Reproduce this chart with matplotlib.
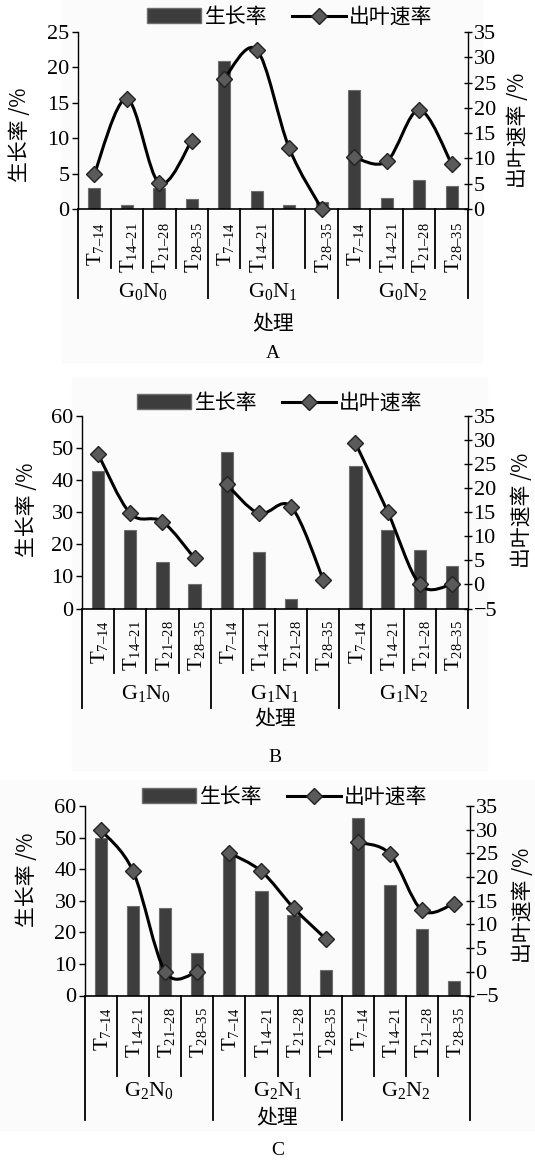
import numpy as np
import matplotlib
matplotlib.use('Agg')
import matplotlib.pyplot as plt
import matplotlib.transforms as mtransforms
from matplotlib.path import Path
from matplotlib.patches import PathPatch, Patch, Rectangle
from matplotlib.lines import Line2D

plt.rcParams['mathtext.fontset'] = 'custom'
plt.rcParams['mathtext.rm'] = 'Liberation Serif'
plt.rcParams['mathtext.it'] = 'Liberation Serif:italic'

CJK = ['Noto Sans CJK SC', 'DejaVu Sans']
SERIF = 'Liberation Serif'

# data
periods = ['$\\mathrm{T}_{\\mathrm{7\u201314}}$', '$\\mathrm{T}_{\\mathrm{14\u201321}}$',
           '$\\mathrm{T}_{\\mathrm{21\u201328}}$', '$\\mathrm{T}_{\\mathrm{28\u201335}}$']
ticks_a = periods + [periods[0], periods[1], '', periods[3]] + periods
ticks_bc = periods * 3

groups_a = [r'$\mathrm{G_0N_0}$', r'$\mathrm{G_0N_1}$', r'$\mathrm{G_0N_2}$']
groups_b = [r'$\mathrm{G_1N_0}$', r'$\mathrm{G_1N_1}$', r'$\mathrm{G_1N_2}$']
groups_c = [r'$\mathrm{G_2N_0}$', r'$\mathrm{G_2N_1}$', r'$\mathrm{G_2N_2}$']

growth_a = [3.0, 0.6, 3.0, 1.4, 20.9, 2.5, 0.5, 1.0, 16.8, 1.6, 4.1, 3.2]
leaf_a = [6.9, 21.8, 5.1, 13.5, 25.8, 31.5, 12.0, 0.0, 10.2, 9.4, 19.6, 8.9]
growth_b = [42.8, 24.5, 14.5, 7.7, 48.7, 17.5, 2.9, 0.0, 44.2, 24.4, 18.3, 13.1]
leaf_b = [27.0, 14.7, 13.0, 5.4, 20.7, 14.7, 16.1, 1.0, 29.3, 15.1, 0.0, 0.0]
growth_c = [50.0, 28.4, 27.6, 13.3, 45.0, 33.2, 25.6, 8.0, 56.2, 34.9, 21.0, 4.7]
leaf_c = [29.9, 21.2, 0.0, 0.0, 25.1, 21.2, 13.5, 7.0, 27.3, 24.9, 13.0, 14.4]

W, H = 535, 1160
fig = plt.figure(figsize=(W / 100, H / 100), dpi=100)

BAR = '#3d3d3d'
MK = '#5a5a5a'


def px_rect(l, t, r, b):
    return [l / W, 1 - b / H, (r - l) / W, (b - t) / H]


def smooth_path(xs, ys):
    # excel-like smoothed line, bezier segments through the points
    pts = np.column_stack([xs, ys]).astype(float)
    n = len(pts)
    verts = [pts[0]]
    codes = [Path.MOVETO]
    for i in range(n - 1):
        p0, p1 = pts[max(i - 1, 0)], pts[i]
        p2, p3 = pts[i + 1], pts[min(i + 2, n - 1)]
        verts += [p1 + (p2 - p0) / 6, p2 - (p3 - p1) / 6, p2]
        codes += [Path.CURVE4] * 3
    return Path(verts, codes)


def panel(box, growth, leaf, ticks, groups, lmax, lstep, rlim, letter,
          tick_top, cat_len, grp_len, grp_y, xlab_y, letter_y,
          ylab_l, ylab_r, legend_xy):
    l, t, r, b = box
    h = b - t
    ax = fig.add_axes(px_rect(l, t, r, b))
    ax.patch.set_alpha(0)
    x = np.arange(12)
    ax.bar(x, growth, width=0.38, color=BAR, edgecolor='#6e6e6e',
           linewidth=0.8, zorder=2)
    ax.set_xlim(-0.5, 11.5)
    ax.set_ylim(0, lmax)
    ax.set_yticks(np.arange(0, lmax + 1, lstep))
    ax.set_xticks([])
    for s in ['top', 'right']:
        ax.spines[s].set_visible(False)
    ax.spines['left'].set_linewidth(1.0)
    ax.spines['bottom'].set_linewidth(1.2)
    ax.tick_params(axis='y', direction='out', length=4, width=1, pad=2,
                   labelsize=16)
    for lab in ax.get_yticklabels():
        lab.set_fontfamily(SERIF)

    ax2 = ax.twinx()
    ax2.set_ylim(*rlim)
    ax2.set_yticks(np.arange(rlim[0], rlim[1] + 1, 5))
    for s in ['top', 'left', 'bottom']:
        ax2.spines[s].set_visible(False)
    ax2.spines['right'].set_linewidth(1.0)
    ax2.tick_params(axis='y', direction='inout', length=6, width=1, pad=1,
                    labelsize=16)
    for lab in ax2.get_yticklabels():
        lab.set_fontfamily(SERIF)

    for g in range(3):
        xs = x[g * 4:(g + 1) * 4]
        ys = leaf[g * 4:(g + 1) * 4]
        ax2.add_patch(PathPatch(smooth_path(xs, ys), fill=False,
                                edgecolor='black', lw=2.2, zorder=3))
        ax2.plot(xs, ys, ls='none', marker='D', ms=8.5, mfc=MK,
                 mec='#222222', mew=1.0, zorder=4, clip_on=False)

    # hierarchical category axis
    tr = mtransforms.blended_transform_factory(ax.transData, ax.transAxes)
    for k in range(13):
        ln = grp_len if k % 4 == 0 else cat_len
        ax.plot([k - 0.5, k - 0.5], [0, -ln / h], transform=tr,
                color='black', lw=1.3, clip_on=False)
    for i, tk in enumerate(ticks):
        if tk:
            ax.text(i + 0.05, -tick_top / h, tk, transform=tr, rotation=90,
                    ha='center', va='top', fontsize=15)
    for g, gl in enumerate(groups):
        ax.text(g * 4 + 1.5, -grp_y / h, gl, transform=tr, ha='center',
                va='center', fontsize=16)

    cx = (l + r) / 2 / W
    fig.text(cx, 1 - (b + xlab_y) / H, '处理', family=CJK, fontsize=15,
             ha='center', va='center')
    fig.text(cx, 1 - (b + letter_y) / H, letter, family=SERIF, fontsize=14,
             ha='center', va='center')
    fig.text(ylab_l[0] / W, 1 - ylab_l[1] / H, '生长率 /%', family=CJK,
             fontsize=15, rotation=90, ha='center', va='center')
    fig.text(ylab_r[0] / W, 1 - ylab_r[1] / H, '出叶速率 /%', family=CJK,
             fontsize=15, rotation=90, ha='center', va='center')

    handles = [Patch(facecolor=BAR, edgecolor='#6e6e6e'),
               Line2D([], [], color='black', lw=2.2, marker='D', ms=8.5,
                      mfc=MK, mec='#222222')]
    fig.legend(handles, ['生长率', '出叶速率'], loc='center',
               bbox_to_anchor=(legend_xy[0] / W, 1 - legend_xy[1] / H),
               ncol=2, frameon=False, prop={'family': CJK, 'size': 15},
               handlelength=2.6, handleheight=0.7, handletextpad=0.15,
               columnspacing=1.2, borderpad=0, borderaxespad=0)
    return ax


# faint panel backgrounds
for (bx, by, bw, bh) in [(62, 0, 420, 362), (72, 378, 415, 392),
                         (0, 780, 535, 350)]:
    fig.patches.append(Rectangle((bx / W, 1 - (by + bh) / H), bw / W, bh / H,
                                 transform=fig.transFigure, color='#fbfbfb',
                                 zorder=-10))

panel((78, 32, 468, 209), growth_a, leaf_a, ticks_a, groups_a, 25, 5,
      (0, 35), 'A', 13, 59, 89, 82, 115, 144,
      (20, 135), (518, 130), (290, 17))
panel((82, 415.5, 468, 608.5), growth_b, leaf_b, ticks_bc, groups_b, 60, 10,
      (-5, 35), 'B', 12, 64, 100, 85, 111, 149,
      (27, 510), (522, 510), (280, 403))
panel((85, 806, 470, 995.5), growth_c, leaf_c, ticks_bc, groups_c, 60, 10,
      (-5, 35), 'C', 12, 80, 124, 95, 123, 155,
      (27, 880), (523, 905), (285, 797))

fig.savefig('out.png', dpi=100)
